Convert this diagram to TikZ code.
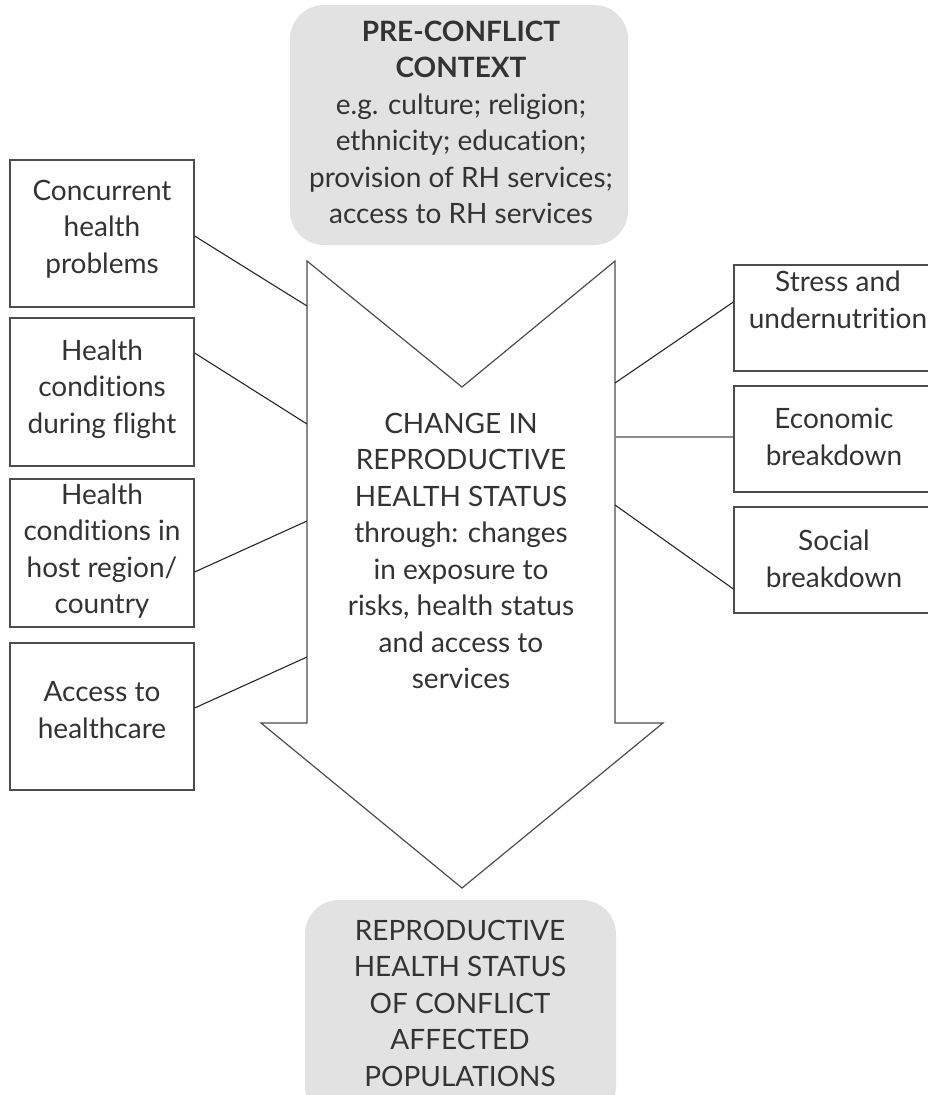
\documentclass[tikz,border=0pt]{standalone}
\usepackage{fontspec}
\setmainfont{Lato}[RawFeature={-liga;-rlig;-calt;-clig;-dlig}]
\definecolor{ink}{HTML}{333333}
\definecolor{edge}{HTML}{4D4D4D}
\definecolor{shade}{HTML}{E2E2E2}
\tikzset{
  box/.style={draw=edge, line width=1.2pt, inner sep=0pt},
  softbox/.style={fill=shade, rounded corners=34pt},
  txt/.style={text=ink, align=center, font=\fontsize{28}{36.5}\selectfont},
  link/.style={draw=black!85, line width=1.1pt},
}
\begin{document}
\begin{tikzpicture}[x=1pt,y=-1pt]
                \useasboundingbox (0,0) rectangle (928,1095);
                % shaded context boxes
                \fill[softbox] (290,5) rectangle (628,245);
                \node[txt] (pre) at (461,122.5)
                    {\textbf{PRE-CONFLICT}\\\textbf{CONTEXT}\\e.g. culture; religion;\\ethnicity; education;\\provision of RH services;\\access to RH services};
                \fill[softbox] (305,900) rectangle (616,1120);
                \node[txt] (post) at (460,1003)
                    {REPRODUCTIVE\\HEALTH STATUS\\OF CONFLICT\\AFFECTED\\POPULATIONS};
                % big arrow
                \draw[edge, line width=1.2pt, line join=miter]
                    (307,261) -- (462,387) -- (615,261) -- (615,723) -- (663,723)
                    -- (462,888) -- (261,723) -- (307,723) -- cycle;
                \node[txt] (change) at (461,551)
                    {CHANGE IN\\REPRODUCTIVE\\HEALTH STATUS\\through: changes\\in exposure to\\risks, health status\\and access to\\services};
                % left factors
                \node[box, minimum width=184pt, minimum height=147pt] (c1) at (102,233.5) {};
                \node[box, minimum width=184pt, minimum height=148pt] (c2) at (102,392) {};
                \node[box, minimum width=184pt, minimum height=148pt] (c3) at (102,553) {};
                \node[box, minimum width=184pt, minimum height=147pt] (c4) at (102,716.5) {};
                \node[txt] at (102,229) {Concurrent\\health\\problems};
                \node[txt] at (102,389) {Health\\condit\kern0pt ions\\during flight};
                \node[txt] at (102,551) {Health\\condit\kern0pt ions in\\host region/\\country};
                \node[txt] at (102,710) {Access to\\healthcare};
                % right factors (cut off at the page edge)
                \node[box, minimum width=220pt, minimum height=106pt] (r1) at (844,318) {};
                \node[box, minimum width=220pt, minimum height=106pt] (r2) at (844,439) {};
                \node[box, minimum width=220pt, minimum height=106pt] (r3) at (844,560) {};
                \node[txt] at (838,300) {Stress and\\undernutrit\kern0pt ion};
                \node[txt] at (834,437) {Economic\\breakdown};
                \node[txt] at (834,559) {Social\\breakdown};
                % links to the arrow
                \coordinate (a1) at (307,306);
                \coordinate (a2) at (307,424);
                \coordinate (a3) at (307,521);
                \coordinate (a4) at (307,657);
                \coordinate (b1) at (615,383);
                \coordinate (b2) at (615,437);
                \coordinate (b3) at (615,505);
                \draw[link] (c1.east |- 0,236) -- (a1);
                \draw[link] (c2.east |- 0,353) -- (a2);
                \draw[link] (c3.east |- 0,572) -- (a3);
                \draw[link] (c4.east |- 0,708) -- (a4);
                \draw[link] (r1.west |- 0,302) -- (b1);
                \draw[link, draw=black!45] (r2.west |- 0,437) -- (b2);
                \draw[link] (r3.west |- 0,589) -- (b3);
            \end{tikzpicture}
\end{document}
